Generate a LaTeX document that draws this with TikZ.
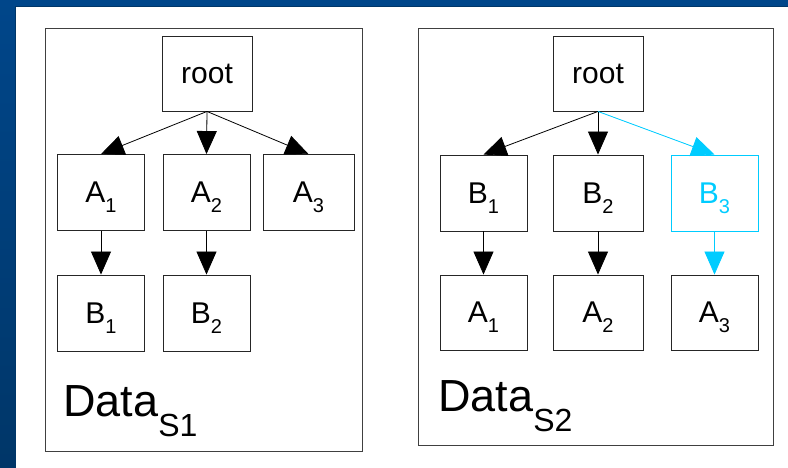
\documentclass[tikz,border=0pt]{standalone}
\usepackage{fontspec}
\setmainfont{Liberation Sans}
\usetikzlibrary{arrows.meta}
\definecolor{bgblue}{RGB}{0,70,138}
\definecolor{bgbluedark}{RGB}{0,54,104}
\definecolor{hl}{RGB}{0,204,255}
\newcommand{\sub}[2]{#1\raisebox{-10pt}[0pt][0pt]{\fontsize{20}{20}\selectfont #2}}
\newcommand{\bigsub}[2]{#1\raisebox{-20pt}[0pt][0pt]{\fontsize{32}{32}\selectfont #2}}
\begin{document}
\begin{tikzpicture}[x=1pt,y=-1pt,
  box/.style={draw=black!85,line width=0.9pt,fill=white,inner sep=0pt,
    minimum width=87pt,minimum height=76pt,font=\fontsize{30}{36}\selectfont},
  frame/.style={draw=black!75,line width=1pt,fill=white},
  edge/.style={line width=0.8pt,-{Triangle[length=23pt,width=20pt]}},
  hledge/.style={edge,draw=hl,fill=hl},
  title/.style={inner sep=0pt,anchor=base west,font=\fontsize{45}{50}\selectfont}]
\useasboundingbox (0,0) rectangle (788,468);
% background
\fill[bgblue] (0,0) rectangle (788,468);
\shade[top color=bgblue,bottom color=bgbluedark] (0,0) rectangle (15,468);
\fill[white] (15,6) rectangle (788,468);
\draw[bgbluedark,line width=0.6pt] (15,468) -- (15,6) -- (788,6);
% containers
\path[frame] (45,29) rectangle (362,451);
\path[frame] (418,29) rectangle (773,445);
% left tree
\node[box,minimum width=90pt,minimum height=75pt] (lroot) at (207,73.5) {root};
\node[box] (la1) at (101,192.5) {\sub{A}{1}};
\node[box] (la2) at (206.5,192.5) {\sub{A}{2}};
\node[box,minimum width=91pt] (la3) at (308.5,192.5) {\sub{A}{3}};
\node[box] (lb1) at (101,313) {\sub{B}{1}};
\node[box] (lb2) at (206.5,313) {\sub{B}{2}};
\draw[edge] (lroot.south) -- (la1.north);
\draw[edge] (lroot.south) -- (la2.north);
\draw[edge] (lroot.south) -- (la3.north);
\draw[edge] (la1.south) -- (lb1.north);
\draw[edge] (la2.south) -- (lb2.north);
\node[title] (ltitle) at (63,416) {\bigsub{Data}{S1}};
% right tree
\node[box,minimum width=90pt,minimum height=75pt] (rroot) at (598,73.5) {root};
\node[box] (rb1) at (483.5,193) {\sub{B}{1}};
\node[box,minimum width=90pt] (rb2) at (598,193) {\sub{B}{2}};
\node[box,draw=hl,text=hl] (rb3) at (714.5,193) {\sub{B}{3}};
\node[box,minimum height=75pt] (ra1) at (483.5,312.5) {\sub{A}{1}};
\node[box,minimum width=90pt,minimum height=75pt] (ra2) at (598,312.5) {\sub{A}{2}};
\node[box,minimum height=75pt] (ra3) at (714.5,312.5) {\sub{A}{3}};
\draw[edge] (rroot.south) -- (rb1.north);
\draw[edge] (rroot.south) -- (rb2.north);
\draw[hledge] (rroot.south) -- (rb3.north);
\draw[edge] (rb1.south) -- (ra1.north);
\draw[edge] (rb2.south) -- (ra2.north);
\draw[hledge] (rb3.south) -- (ra3.north);
\node[title] (rtitle) at (438,411) {\bigsub{Data}{S2}};
\end{tikzpicture}
\end{document}
